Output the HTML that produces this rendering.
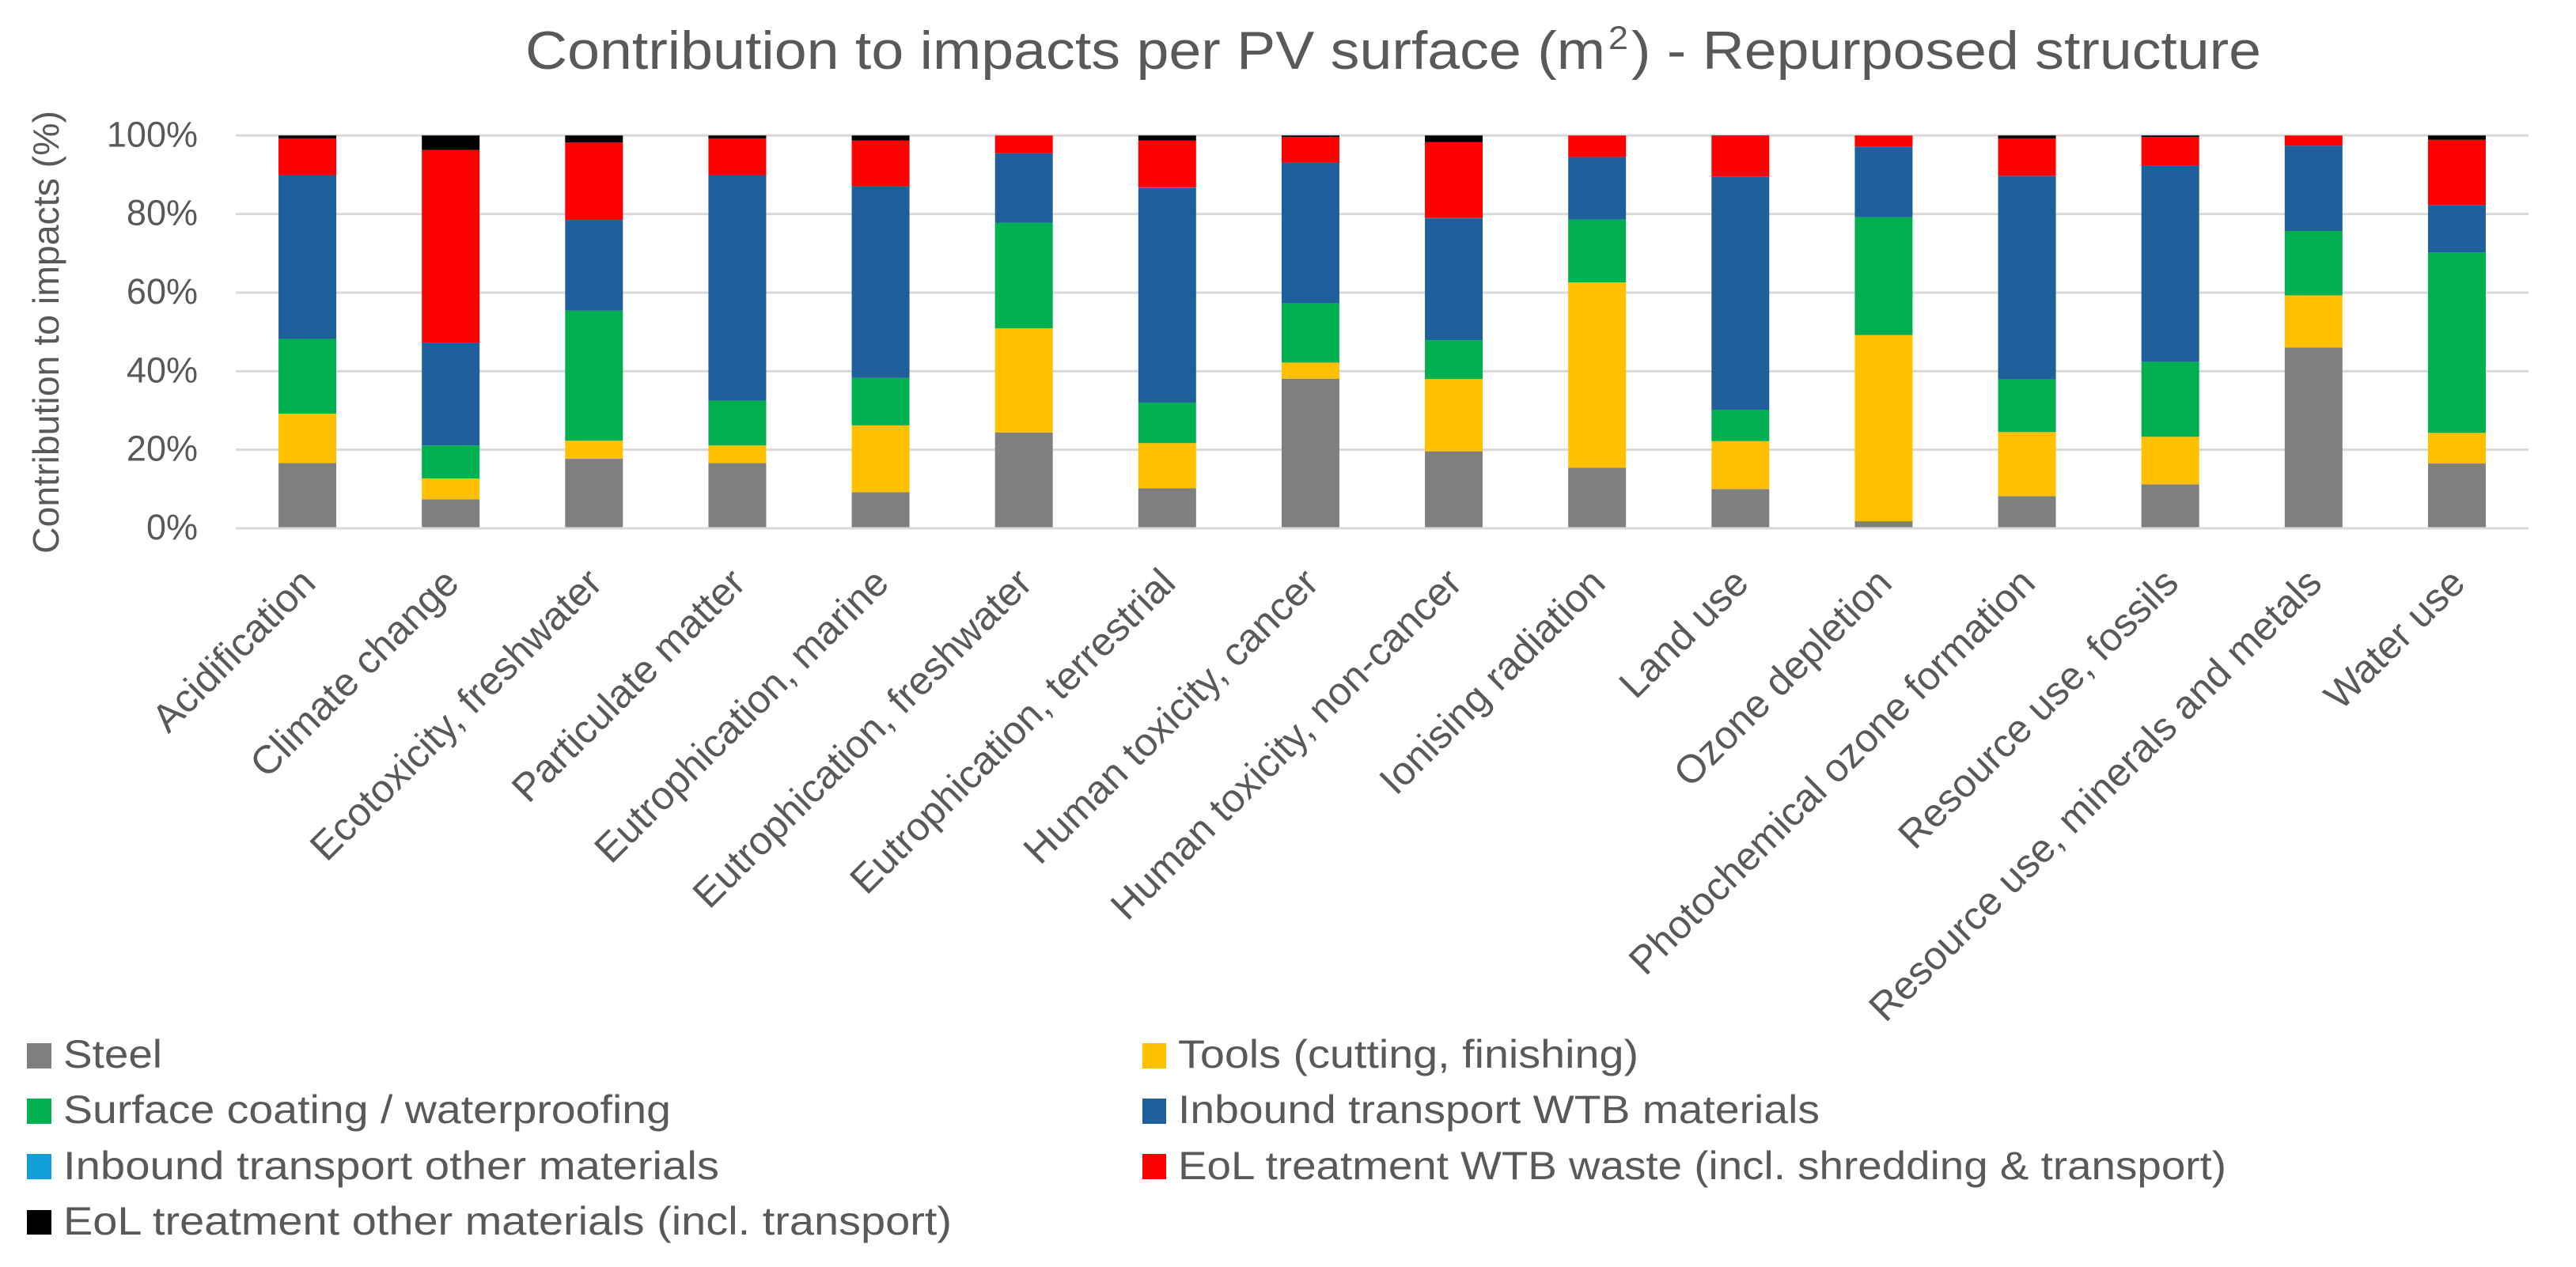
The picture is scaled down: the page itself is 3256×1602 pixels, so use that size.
<!DOCTYPE html>
<html lang="en">
<head>
<meta charset="utf-8">
<title>Contribution to impacts per PV surface</title>
<style>
html,body{margin:0;padding:0;background:#fff;width:3256px;height:1602px;overflow:hidden}
svg{display:block;font-family:"Liberation Sans",sans-serif}
text{fill:#595959}
</style>
</head>
<body>
<svg id="chart" xmlns="http://www.w3.org/2000/svg" width="3256" height="1602" viewBox="0 0 3256 1602">
  <rect x="0" y="0" width="3256" height="1602" fill="#ffffff"/>
  <g>
    <text x="664" y="87" font-size="68" textLength="1365" lengthAdjust="spacingAndGlyphs">Contribution to impacts per PV surface (m</text>
    <text x="2033" y="62" font-size="42" textLength="25" lengthAdjust="spacingAndGlyphs">2</text>
    <text x="2062" y="87" font-size="68" textLength="796" lengthAdjust="spacingAndGlyphs">) - Repurposed structure</text>
  </g>
  <text transform="translate(74,700) rotate(-90)" font-size="46" textLength="560" lengthAdjust="spacingAndGlyphs">Contribution to impacts (%)</text>
  <g id="grid"></g>
  <g id="bars"></g>
  <g id="yticks"></g>
  <g id="xticks"></g>
  <g>
    <g>
      <rect x="34" y="1319" width="31" height="32" fill="#7f7f7f"/>
      <text x="80" y="1350" font-size="50" textLength="125" lengthAdjust="spacingAndGlyphs">Steel</text>
    </g>
    <g>
      <rect x="1444" y="1319" width="30" height="32" fill="#ffc000"/>
      <text x="1489" y="1350" font-size="50" textLength="582" lengthAdjust="spacingAndGlyphs">Tools (cutting, finishing)</text>
    </g>
    <g>
      <rect x="34" y="1389" width="31" height="32" fill="#00b050"/>
      <text x="80" y="1420" font-size="50" textLength="768" lengthAdjust="spacingAndGlyphs">Surface coating / waterproofing</text>
    </g>
    <g>
      <rect x="1444" y="1389" width="30" height="32" fill="#1f5f9c"/>
      <text x="1489" y="1420" font-size="50" textLength="811" lengthAdjust="spacingAndGlyphs">Inbound transport WTB materials</text>
    </g>
    <g>
      <rect x="34" y="1459" width="31" height="32" fill="#0f9ed5"/>
      <text x="80" y="1491" font-size="50" textLength="829" lengthAdjust="spacingAndGlyphs">Inbound transport other materials</text>
    </g>
    <g>
      <rect x="1444" y="1459" width="30" height="32" fill="#ff0000"/>
      <text x="1489" y="1491" font-size="50" textLength="1325" lengthAdjust="spacingAndGlyphs">EoL treatment WTB waste (incl. shredding &amp; transport)</text>
    </g>
    <g>
      <rect x="34" y="1530" width="31" height="31" fill="#000000"/>
      <text x="80" y="1561" font-size="50" textLength="1123" lengthAdjust="spacingAndGlyphs">EoL treatment other materials (incl. transport)</text>
    </g>
  </g>
</svg>
<script>
const categories = ["Acidification","Climate change","Ecotoxicity, freshwater","Particulate matter","Eutrophication, marine","Eutrophication, freshwater","Eutrophication, terrestrial","Human toxicity, cancer","Human toxicity, non-cancer","Ionising radiation","Land use","Ozone depletion","Photochemical ozone formation","Resource use, fossils","Resource use, minerals and metals","Water use"];
const steel = [16.6,7.4,17.7,16.6,9.2,24.4,10.2,38.1,19.6,15.4,10.0,1.8,8.2,11.2,46.0,16.5];
const tools = [12.6,5.3,4.6,4.5,17.0,26.5,11.5,4.1,18.4,47.2,12.2,47.4,16.3,12.1,13.3,7.8];
const coating = [19.0,8.4,33.1,11.4,12.1,26.9,10.3,15.1,9.9,16.0,8.0,30.0,13.4,19.1,16.4,45.9];
const inboundWtb = [41.7,26.2,23.1,57.4,48.7,17.7,54.7,35.8,31.0,15.9,59.3,18.0,51.7,50.0,21.7,12.1];
const inboundOther = [0,0,0,0,0,0,0.1,0,0.1,0,0.1,0,0.1,0,0,0];
const eolWtb = [9.3,49.0,19.7,9.3,11.7,4.5,11.9,6.5,19.3,5.5,10.3,2.8,9.5,7.2,2.6,16.6];
const eolOther = [0.8,3.7,1.8,0.8,1.3,0,1.3,0.4,1.7,0,0.1,0,0.8,0.4,0,1.1];
const yTickValues = [0,20,40,60,80,100];

const seriesList = [steel,tools,coating,inboundWtb,inboundOther,eolWtb,eolOther];
const seriesNames = ["steel","tools","surface-coating","inbound-wtb","inbound-other","eol-wtb","eol-other"];
const seriesColors = ["#7f7f7f","#ffc000","#00b050","#1f5f9c","#0f9ed5","#ff0000","#000000"];

const NS = "http://www.w3.org/2000/svg";
const plotLeft = 298, plotRight = 3196, plotTop = 171.3, plotBottom = 668;
const band = (plotRight - plotLeft) / categories.length;
const barWidth = 73;
function yScale(v){ return plotBottom - (v / 100) * (plotBottom - plotTop); }
function xCenter(i){ return plotLeft + band * (i + 0.5); }

const gridG = document.getElementById("grid");
const ytickG = document.getElementById("yticks");
yTickValues.forEach(function(v){
  const line = document.createElementNS(NS,"line");
  
  
  line.setAttribute("x1",plotLeft);
  line.setAttribute("x2",plotRight);
  line.setAttribute("y1",yScale(v));
  line.setAttribute("y2",yScale(v));
  line.setAttribute("stroke","#d9d9d9");
  line.setAttribute("stroke-width","3");
  gridG.appendChild(line);
  const t = document.createElementNS(NS,"text");
  
  
  t.setAttribute("x",250);
  t.setAttribute("y",yScale(v)+14);
  t.setAttribute("font-size","45");
  t.setAttribute("text-anchor","end");
  t.textContent = v + "%";
  ytickG.appendChild(t);
});

const barsG = document.getElementById("bars");
categories.forEach(function(cat,i){
  let cum = 0;
  seriesList.forEach(function(arr,s){
    const val = arr[i];
    if(val > 0){
      const r = document.createElementNS(NS,"rect");
      
      
      r.setAttribute("x",xCenter(i)-barWidth/2);
      r.setAttribute("y",yScale(cum+val));
      r.setAttribute("width",barWidth);
      r.setAttribute("height",yScale(cum)-yScale(cum+val));
      r.setAttribute("fill",seriesColors[s]);
      barsG.appendChild(r);
    }
    cum += val;
  });
});
const axisLine = document.createElementNS(NS,"line");


axisLine.setAttribute("x1",plotLeft);
axisLine.setAttribute("x2",plotRight);
axisLine.setAttribute("y1",plotBottom);
axisLine.setAttribute("y2",plotBottom);
axisLine.setAttribute("stroke","#d9d9d9");
axisLine.setAttribute("stroke-width","3");
barsG.appendChild(axisLine);

const xtickG = document.getElementById("xticks");
categories.forEach(function(cat,i){
  const t = document.createElementNS(NS,"text");
  
  
  const ax = xCenter(i) + 13, ay = 740;
  t.setAttribute("transform","translate("+ax+","+ay+") rotate(-45)");
  t.setAttribute("font-size","50");
  t.setAttribute("text-anchor","end");
  t.textContent = cat;
  xtickG.appendChild(t);
});
</script>
</body>
</html>
